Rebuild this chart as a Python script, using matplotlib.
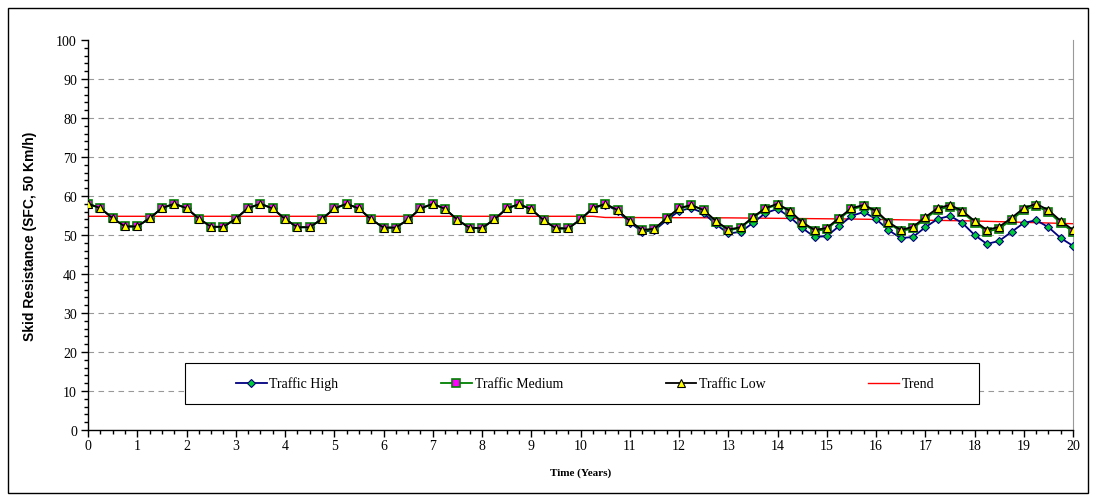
"""Skid resistance over time for three traffic levels."""

import numpy as np
import matplotlib as mpl
from matplotlib import pyplot as plt
from matplotlib.patches import Rectangle
from matplotlib.ticker import MultipleLocator

mpl.use("Agg")

# Time axis: one reading every quarter year
years = np.linspace(0, 20, 81)

traffic_low = [
    58.0, 56.9, 54.3, 52.2, 52.2, 54.3, 56.9,
    58.0, 56.9, 54.2, 52.1, 52.1, 54.2, 56.9,
    58.0, 56.8, 54.1, 52.0, 52.0, 54.1, 56.8,
    58.0, 56.8, 54.0, 51.9, 51.9, 54.0, 56.8,
    58.0, 56.7, 53.9, 51.8, 51.8, 54.0, 56.8,
    57.9, 56.6, 53.8, 51.7, 51.7, 54.0, 56.9,
    58.0, 56.4, 53.6, 51.3, 51.6, 54.4, 56.9,
    57.7, 56.4, 53.6, 51.4, 52.0, 54.6, 56.9,
    58.0, 56.2, 53.3, 51.3, 51.8, 54.4, 56.9,
    57.7, 56.2, 53.3, 51.3, 52.1, 54.6, 56.9,
    57.7, 56.2, 53.6, 51.3, 52.1, 54.4, 56.9,
    58.0, 56.4, 53.6, 51.3,
]

traffic_medium = [
    58.0, 56.9, 54.3, 52.2, 52.2, 54.3, 56.9,
    58.0, 56.9, 54.2, 52.1, 52.1, 54.2, 56.9,
    58.0, 56.8, 54.1, 52.0, 52.0, 54.1, 56.8,
    58.0, 56.8, 54.0, 51.9, 51.9, 54.0, 56.8,
    58.0, 56.7, 53.9, 51.8, 51.8, 54.0, 56.8,
    57.9, 56.6, 53.8, 51.7, 51.7, 54.0, 56.9,
    58.0, 56.4, 53.5, 51.2, 51.5, 54.3, 56.8,
    57.6, 56.3, 53.4, 51.2, 51.8, 54.4, 56.7,
    57.8, 56.0, 53.1, 51.0, 51.5, 54.1, 56.6,
    57.4, 55.9, 53.0, 51.0, 51.7, 54.2, 56.5,
    57.3, 55.8, 53.2, 50.9, 51.6, 53.9, 56.4,
    57.5, 55.9, 53.1, 50.8,
]

traffic_high = [
    58.0, 56.9, 54.3, 52.2, 52.2, 54.3, 56.9,
    58.0, 56.9, 54.2, 52.1, 52.1, 54.2, 56.9,
    58.0, 56.8, 54.1, 52.0, 52.0, 54.1, 56.8,
    58.0, 56.8, 54.0, 51.9, 51.9, 54.0, 56.8,
    58.0, 56.7, 53.9, 51.8, 51.8, 54.0, 56.8,
    57.9, 56.6, 53.8, 51.7, 51.7, 54.0, 56.9,
    57.8, 56.2, 53.2, 50.9, 51.2, 53.8, 56.2,
    56.9, 55.6, 52.7, 50.4, 50.8, 53.1, 55.6,
    56.7, 54.6, 51.8, 49.5, 49.7, 52.3, 54.9,
    55.9, 54.1, 51.3, 49.2, 49.5, 52.0, 54.1,
    54.9, 53.1, 50.0, 47.7, 48.5, 50.8, 53.1,
    53.8, 52.0, 49.2, 47.2,
]

trend_years = [0, 10.25, 10.5, 13, 15.5, 18, 20]
trend = [54.8, 54.8, 54.5, 54.4, 54.1, 53.6, 52.9]

fig = plt.figure(figsize=(10.95, 5.02), dpi=100)
ax = fig.add_axes([0.0804, 0.1414, 0.8996, 0.7769])

# Outer chart border
fig.patches.append(Rectangle((0.007, 0.016), 0.987, 0.966, transform=fig.transFigure,
                             fill=False, edgecolor="black", linewidth=1.0))

ax.plot(trend_years, trend, color="#ff0000", linewidth=1.0, label="Trend", zorder=2)
ax.plot(years, traffic_high, color="#000080", linewidth=1.3, marker="D", markersize=4.5,
        markerfacecolor="#00cc33", markeredgecolor="#000080", markeredgewidth=0.8,
        label="Traffic High", zorder=3)
ax.plot(years, traffic_medium, color="#008000", linewidth=1.3, marker="s", markersize=5.5,
        markerfacecolor="#ff00ff", markeredgecolor="#008000", markeredgewidth=1.2,
        label="Traffic Medium", zorder=4)
ax.plot(years, traffic_low, color="black", linewidth=1.3, marker="^", markersize=6,
        markerfacecolor="#ffff00", markeredgecolor="black", markeredgewidth=0.8,
        label="Traffic Low", zorder=5)

ax.set_xlim(0, 20)
ax.set_ylim(0, 100)
ax.xaxis.set_major_locator(MultipleLocator(1))
ax.xaxis.set_minor_locator(MultipleLocator(0.25))
ax.yaxis.set_major_locator(MultipleLocator(10))
ax.yaxis.set_minor_locator(MultipleLocator(2))
ax.tick_params(which="both", direction="out", color="black", width=1.0)
ax.tick_params(which="major", length=5, labelsize=10)
ax.tick_params(which="minor", length=3)
ax.tick_params(axis="x", which="major", pad=1.5)
ax.tick_params(axis="y", which="major", pad=3)
for label in ax.get_xticklabels() + ax.get_yticklabels():
    label.set_family("Liberation Serif")

# Dashed gridlines 10..90 (none at the top edge)
for level in range(10, 100, 10):
    ax.axhline(level, color="#999999", linestyle=(0, (5, 4)), linewidth=0.8, zorder=1)
ax.spines["top"].set_visible(False)
ax.spines["right"].set_color("#999999")
ax.spines["left"].set_linewidth(1.0)
ax.spines["bottom"].set_linewidth(1.0)

ax.set_ylabel("Skid Resistance (SFC, 50 Km/h)", fontsize=10, fontweight="bold",
              family="Liberation Sans", labelpad=14)
ax.set_xlabel("Time (Years)", fontsize=8, fontweight="bold", family="Liberation Serif",
              labelpad=11)

# Legend frame drawn separately so the entries can sit centred inside it
ax.add_patch(Rectangle((0.098, 0.067), 0.806, 0.105, transform=ax.transAxes,
                       facecolor="white", edgecolor="black", linewidth=0.8, zorder=6))
handles, labels = ax.get_legend_handles_labels()
order = [1, 2, 3, 0]
leg = ax.legend([handles[i] for i in order], [labels[i] for i in order], ncol=4,
                loc="center", bbox_to_anchor=(0.5046, 0.119), frameon=False,
                handlelength=2.2, handletextpad=0.2, columnspacing=7.4,
                prop={"family": "Liberation Serif", "size": 10})
leg.set_zorder(7)

fig.savefig("out.png", dpi=100)
plt.close(fig)
